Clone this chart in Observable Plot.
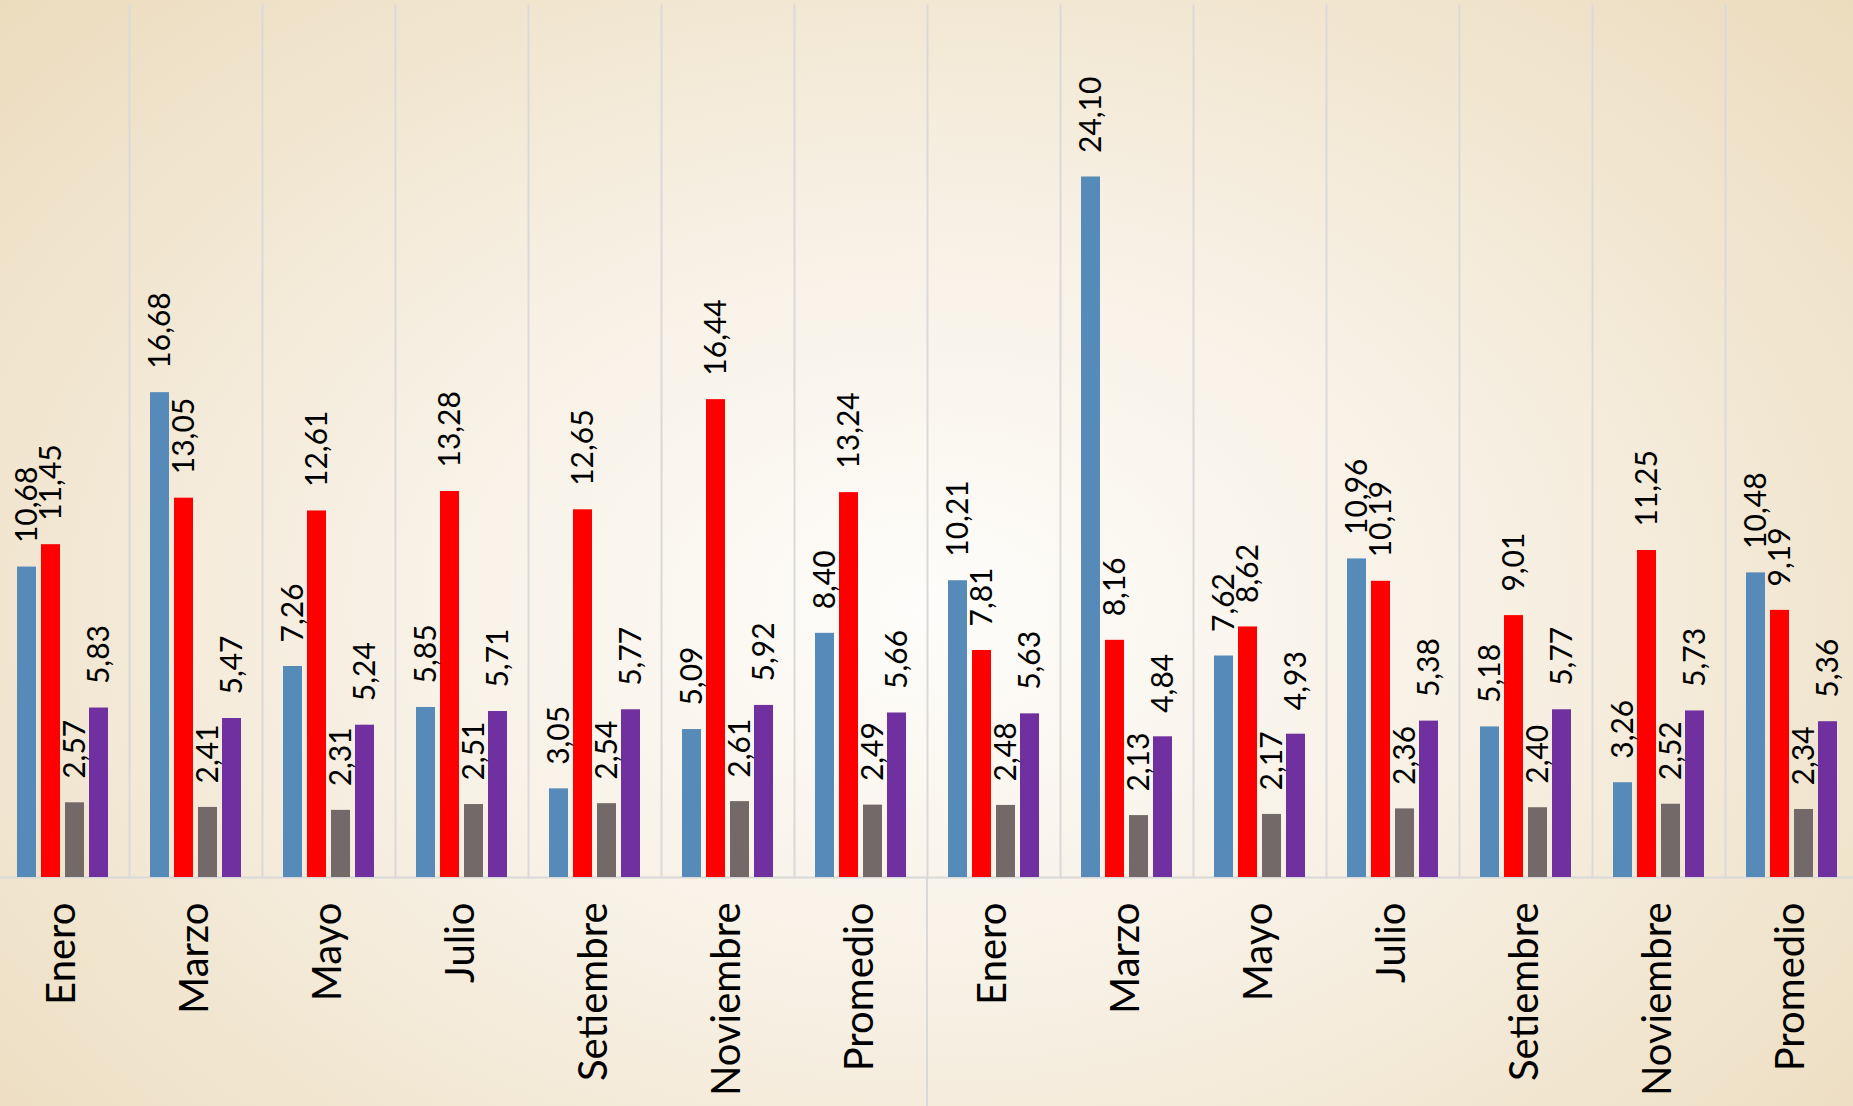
<!DOCTYPE html>
<html><head><meta charset="utf-8">
<script src="https://cdn.jsdelivr.net/npm/d3@7"></script>
<script src="https://cdn.jsdelivr.net/npm/@observablehq/plot@0.6"></script>
<style>
html,body{margin:0;padding:0;}
#chart{width:1853px;height:1106px;overflow:hidden;
  background: radial-gradient(ellipse 72% 85% at 50% 55%, #fefdfb 0%, #f7f0e4 42%, #ebdaba 100%);}
svg{display:block;}
</style></head><body><div id="chart"></div>
<script>
// Categories (two blocks of seven)
const groups = ["Enero","Marzo","Mayo","Julio","Setiembre","Noviembre","Promedio",
                "Enero","Marzo","Mayo","Julio","Setiembre","Noviembre","Promedio"];
const blocks = ["A","A","A","A","A","A","A","B","B","B","B","B","B","B"];
// Series (unnamed in the source picture)
const seriesNames = ["Serie 1","Serie 2","Serie 3","Serie 4"];
const seriesColors = ["#568ab9","#ff0000","#736968","#7030a0"];
const serie1 = [10.68,16.68,7.26,5.85,3.05,5.09,8.40, 10.21,24.10,7.62,10.96,5.18,3.26,10.48];
const serie2 = [11.45,13.05,12.61,13.28,12.65,16.44,13.24, 7.81,8.16,8.62,10.19,9.01,11.25,9.19];
const serie3 = [2.57,2.41,2.31,2.51,2.54,2.61,2.49, 2.48,2.13,2.17,2.36,2.40,2.52,2.34];
const serie4 = [5.83,5.47,5.24,5.71,5.77,5.92,5.66, 5.63,4.84,4.93,5.38,5.77,5.73,5.36];

const allSeries = [serie1, serie2, serie3, serie4];
const gids = groups.map((g, i) => blocks[i] + "-" + g);
const groupData = groups.map((g, i) => ({gid: gids[i], name: g}));
const data = [];
gids.forEach((gid, i) => allSeries.forEach((s, j) => data.push({gid, series: seriesNames[j], value: s[i]})));
const fmt = v => d3.format(".2f")(v).replace(".", ",");

const chart = Plot.plot({
  width: 1853, height: 1106,
  marginTop: 5, marginBottom: 229, marginLeft: -4, marginRight: -5,
  style: {background: "transparent", fontFamily: "Lato, sans-serif", color: "#000", overflow: "visible"},
  fx: {domain: gids, padding: 0, axis: null},
  x: {domain: seriesNames, paddingInner: 5/24, paddingOuter: 0.875, axis: null},
  y: {domain: [0, 30], axis: null},
  color: {domain: seriesNames, range: seriesColors},
  marks: [
    Plot.frame({anchor: "left", stroke: "#d9d9d9", strokeWidth: 2}),
    Plot.ruleY([0], {stroke: "#d9d9d9", strokeWidth: 2}),
    Plot.barY(data, {fx: "gid", x: "series", y: "value", fill: "series"}),
    Plot.text(data, {fx: "gid", x: "series", y: "value", text: d => fmt(d.value),
      rotate: -90, textAnchor: "start", dy: -24, fontSize: 30, fill: "#000"}),
    Plot.text(groupData, {fx: "gid", frameAnchor: "bottom", text: "name",
      rotate: -90, textAnchor: "end", dx: 12, dy: 25, fontSize: 40, fill: "#000"})
  ]
});
document.getElementById("chart").appendChild(chart);

// Extend the divider between the two blocks down to the bottom of the picture
const fx = chart.scale("fx");
const y = chart.scale("y");
const xDiv = fx.apply("B-Enero");
d3.select(chart).append("line")
  .attr("x1", xDiv).attr("x2", xDiv)
  .attr("y1", y.apply(0)).attr("y2", 1106)
  .attr("stroke", "#d9d9d9").attr("stroke-width", 2);
</script>
</body></html>
